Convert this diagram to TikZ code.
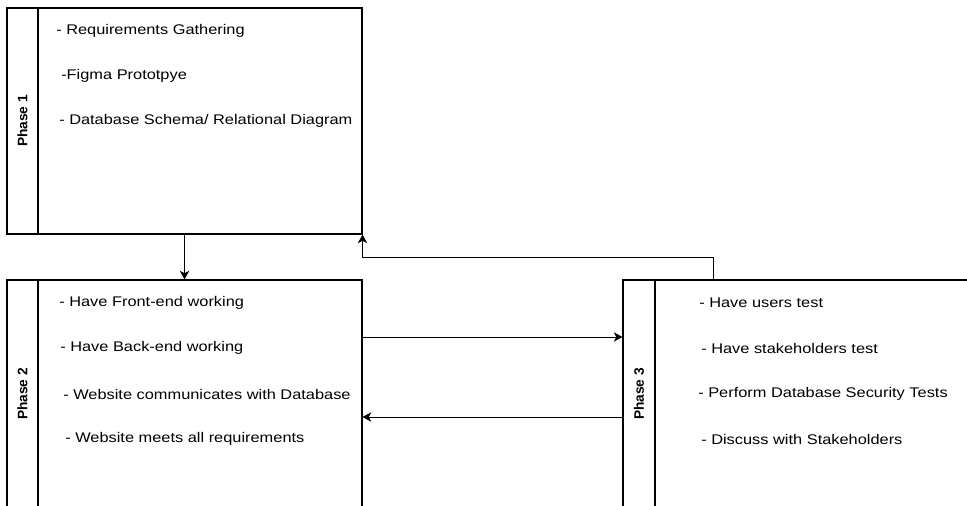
\documentclass[tikz,border=0pt]{standalone}
\usepackage{fontspec}
\setmainfont{Liberation Sans}
\newfontfamily\itemfont[FakeStretch=1.17]{Liberation Sans}
\usetikzlibrary{arrows.meta}
\usetikzlibrary{fit}

\tikzset{
  phasebox/.style={draw, inner sep=0pt, line width=0.8pt},
  phaselabel/.style={rotate=90, font=\fontsize{10.3}{12}\selectfont\bfseries, inner sep=0.75pt},
  itemtext/.style={anchor=west, inner sep=0.75pt, font=\itemfont\fontsize{10.5}{12}\selectfont},
  flow/.style={line width=0.75pt, -{Stealth[length=6.5pt,width=7pt,inset=1.8pt]}}
}

\begin{document}
\begin{tikzpicture}[x=0.75pt,y=0.75pt,yscale=-1,xscale=1]
\clip (0,0) rectangle (967,506);

%Phase boxes
\path (7,8) coordinate (p1a) (362,234) coordinate (p1b);
\node [phasebox, fit=(p1a)(p1b)] (p1) {};
\path (7,280) coordinate (p2a) (362,515) coordinate (p2b);
\node [phasebox, fit=(p2a)(p2b)] (p2) {};
\path (623,280) coordinate (p3a) (980,515) coordinate (p3b);
\node [phasebox, fit=(p3a)(p3b)] (p3) {};

%Header strips
\draw [line width=0.8pt] (38,8) -- (38,234) ;
\draw [line width=0.8pt] (38,280) -- (38,515) ;
\draw [line width=0.8pt] (655,280) -- (655,515) ;
\node [phaselabel] (l1) at (22.5,121) {Phase 1};
\node [phaselabel] (l2) at (22.5,394) {Phase 2};
\node [phaselabel] (l3) at (639,394) {Phase 3};

% Text Node
\node [itemtext] (t11) at (55,31) {- Requirements Gathering};
\node [itemtext] (t12) at (60,76) {-Figma Prototpye};
\node [itemtext] (t13) at (58,121) {- Database Schema/ Relational Diagram};
% Text Node
\node [itemtext] (t21) at (58,303) {- Have Front-end working};
\node [itemtext] (t22) at (59,348) {- Have Back-end working};
\node [itemtext] (t23) at (62,394) {- Website communicates with Database};
\node [itemtext] (t24) at (64,439) {- Website meets all requirements};
% Text Node
\node [itemtext] (t31) at (698,303) {- Have users test};
\node [itemtext] (t32) at (700,348) {- Have stakeholders test};
\node [itemtext] (t33) at (697,394) {- Perform Database Security Tests};
\node [itemtext] (t34) at (700,439) {- Discuss with Stakeholders};

%Connectors
\coordinate (fwd) at (490,337);
\coordinate (back) at (490,417);
\coordinate (fb) at (713,257);
\draw [flow] (p1.south) -- (p2.north) ;
\draw [flow] (p2.east |- fwd) -- (p3.west |- fwd) ;
\draw [flow] (p3.west |- back) -- (p2.east |- back) ;
\draw [flow] (fb |- p3.north) -- (fb) -- (fb -| p1.east) -- (p1.south east) ;

\end{tikzpicture}
\end{document}
